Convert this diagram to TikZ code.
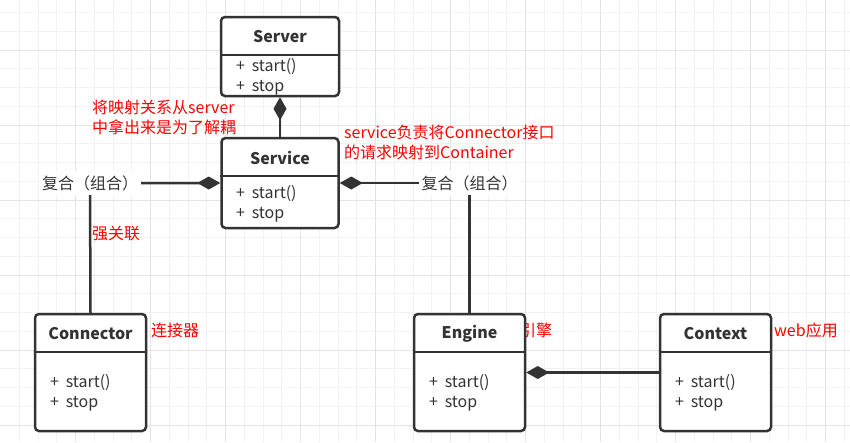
\documentclass[tikz,border=0pt]{standalone}
\usepackage{fontspec}
\setmainfont{Noto Sans CJK SC}
\usetikzlibrary{arrows.meta}
\definecolor{ink}{HTML}{333333}
\definecolor{minorgrid}{HTML}{F2F2F2}
\definecolor{majorgrid}{HTML}{E4E4E4}
\definecolor{note}{HTML}{FF0000}
\newcommand{\pl}{+\hspace{0.42em}}
\tikzset{
  classbox/.style={draw=ink, line width=2.5pt, rounded corners=4pt, fill=white, inner sep=0pt},
  divider/.style={draw=ink, line width=2pt},
  title/.style={font=\fontsize{16}{20}\selectfont\bfseries, text=ink, inner sep=0pt},
  members/.style={font=\fontsize{16}{20}\selectfont, text=ink, align=left, anchor=west, inner sep=0pt},
  notetext/.style={font=\fontsize{16}{20}\selectfont, text=note, align=left, anchor=west, inner sep=0pt},
  edge/.style={draw=ink, line width=2.5pt},
  comp/.style={{Diamond[length=23pt, width=13pt]}-},
  edgelabel/.style={font=\fontsize{16}{20}\selectfont, text=ink, fill=white, inner xsep=3pt, inner ysep=4pt},
}
\begin{document}
\begin{tikzpicture}[x=1pt, y=-1pt]
\useasboundingbox (0,0) rectangle (850,442);
\fill[white] (0,0) rectangle (850,442);
% grid
\foreach \k in {1,...,45} {
  \pgfmathsetmacro{\gx}{0.7+18.75*\k}
  \draw[minorgrid, line width=1pt] (\gx,0) -- (\gx,442);
}
\foreach \k in {0,...,23} {
  \pgfmathsetmacro{\gy}{12.6+18.75*\k}
  \draw[minorgrid, line width=1pt] (0,\gy) -- (850,\gy);
}
\foreach \k in {1,...,11} {
  \pgfmathsetmacro{\gx}{0.7+75*\k}
  \draw[majorgrid, line width=1pt] (\gx,0) -- (\gx,442);
}
\foreach \k in {0,...,5} {
  \pgfmathsetmacro{\gy}{50.1+75*\k}
  \draw[majorgrid, line width=1pt] (0,\gy) -- (850,\gy);
}

% notes drawn under boxes
\node[notetext] (engnote) at (520,330) {引擎};

% classes
\node[classbox, minimum width=118pt, minimum height=79pt] (server) at (280,56.5) {};
\draw[divider] (server.west |- 0,54.5) -- (server.east |- 0,54.5);
\node[title] (servert) at (280,36.5) {Server};
\node[members] (serverm) at (236,76.5) {\pl start()\\\pl stop};

\node[classbox, minimum width=117pt, minimum height=90pt] (service) at (280,183) {};
\draw[divider] (service.west |- 0,176) -- (service.east |- 0,176);
\node[title] (servicet) at (280,157.5) {Service};
\node[members] (servicem) at (236,203.5) {\pl start()\\\pl stop};

\node[classbox, minimum width=111pt, minimum height=117pt] (connector) at (90.5,372.5) {};
\draw[divider] (connector.west |- 0,352) -- (connector.east |- 0,352);
\node[title] (connectort) at (90.5,333.5) {Connector};
\node[members] (connectorm) at (50,392.5) {\pl start()\\\pl stop};

\node[classbox, minimum width=111pt, minimum height=117pt] (engine) at (469.5,372.5) {};
\draw[divider] (engine.west |- 0,352) -- (engine.east |- 0,352);
\node[title] (enginet) at (469.5,333.5) {Engine};
\node[members] (enginem) at (429,392.5) {\pl start()\\\pl stop};

\node[classbox, minimum width=111pt, minimum height=117pt] (context) at (715.5,372.5) {};
\draw[divider] (context.west |- 0,352) -- (context.east |- 0,352);
\node[title] (contextt) at (715.5,333.5) {Context};
\node[members] (contextm) at (675,392.5) {\pl start()\\\pl stop};

% connectors
\draw[edge, comp] (server.south) -- (service.north);

\coordinate (lcorner) at (90,183);
\draw[edge, comp] (service.west) -- (lcorner) -- (connector.north);
\node[edgelabel] (llabel) at (lcorner) {复合（组合）};

\coordinate (rcorner) at (469.5,183);
\draw[edge, comp] (service.east) -- (rcorner) -- (engine.north);
\node[edgelabel] (rlabel) at (rcorner) {复合（组合）};

\draw[edge, comp] (engine.east) -- (context.west);

% notes
\node[notetext] (note1) at (92,117.5) {将映射关系从server\\中拿出来是为了解耦};
\node[notetext] (note2) at (344,142.5) {service负责将Connector接口\\的请求映射到Container};
\node[notetext] (note3) at (92,233.5) {强关联};
\node[notetext] (note4) at (151,330.5) {连接器};
\node[notetext] (note5) at (774,330.5) {web应用};
\end{tikzpicture}
\end{document}
